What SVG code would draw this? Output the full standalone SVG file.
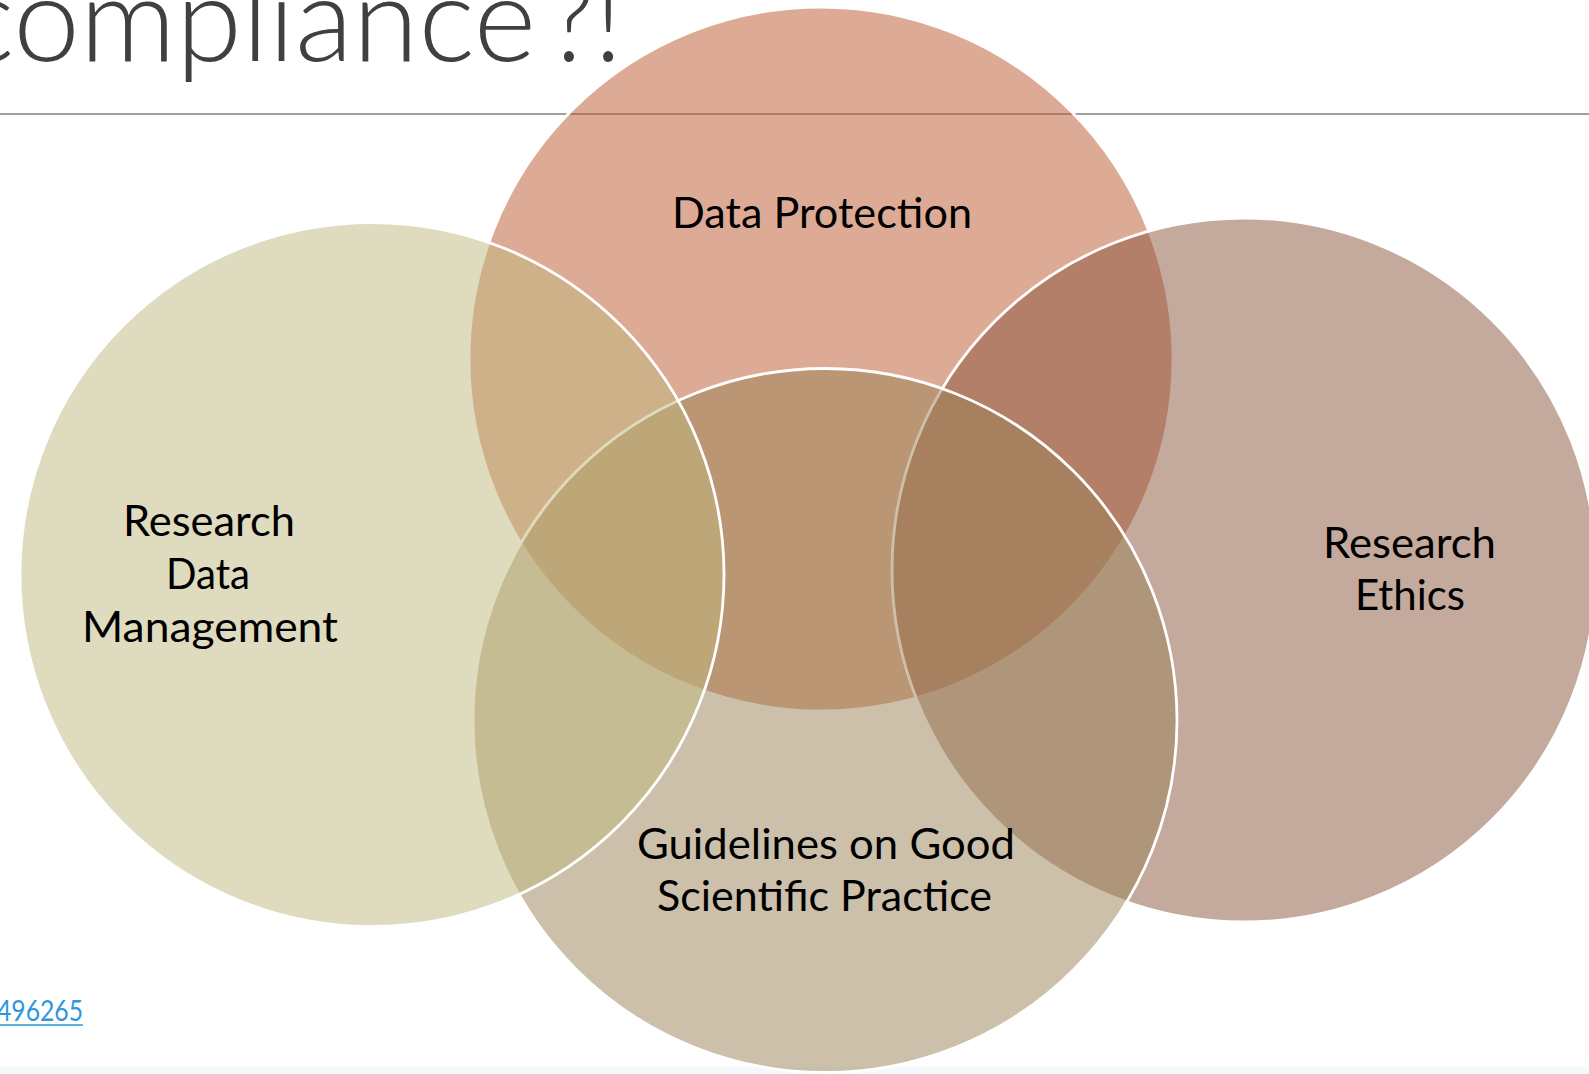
<svg xmlns="http://www.w3.org/2000/svg" width="1589" height="1074" viewBox="0 0 1589 1074">
  <style>
    .circle { stroke: #ffffff; stroke-width: 2.8; fill-opacity: 0.5; }
    .label { font-family: "Lato", "Liberation Sans", sans-serif; font-size: 42px; fill: #000000; }
    .title { font-family: "Lato", "Liberation Sans", sans-serif; font-weight: 300; font-size: 118px; fill: #404040; }
    .link { font-family: "Lato", "Liberation Sans", sans-serif; font-size: 28px; fill: #2e95de; }
  </style>
  <rect x="0" y="0" width="1589" height="1074" fill="#ffffff"/>
  <rect x="0" y="1067" width="1589" height="7" fill="#f4fafb"/>

  <g id="title">
    <text class="title" y="61"><tspan x="-42" textLength="578" lengthAdjust="spacingAndGlyphs">compliance</tspan><tspan x="548" textLength="74" lengthAdjust="spacingAndGlyphs">?!</tspan></text>
    <line x1="0" y1="114" x2="1589" y2="114" stroke="#a0a0a0" stroke-width="2"/>
  </g>

  <g id="node-data-protection">
    <circle class="circle" cx="821" cy="359" r="352" fill="rgb(187,85,43)"/>
    <text class="label" x="672" y="228" textLength="300" lengthAdjust="spacingAndGlyphs">Data Protection</text>
  </g>

  <g id="node-research-ethics">
    <circle class="circle" cx="1244" cy="570" r="352" fill="rgb(137,83,59)"/>
    <text class="label" x="1323" y="558" textLength="173" lengthAdjust="spacingAndGlyphs">Research</text>
    <text class="label" x="1355" y="610" textLength="110" lengthAdjust="spacingAndGlyphs">Ethics</text>
  </g>

  <g id="node-guidelines">
    <circle class="circle" cx="825" cy="720.5" r="352" fill="rgb(153,129,85)"/>
    <text class="label" x="637" y="859" textLength="378" lengthAdjust="spacingAndGlyphs">Guidelines on Good</text>
    <text class="label" x="657" y="911" textLength="335" lengthAdjust="spacingAndGlyphs">Scientific Practice</text>
  </g>

  <g id="node-research-data-management">
    <circle class="circle" cx="372" cy="574.5" r="352" fill="rgb(191,183,125)"/>
    <text class="label" x="123" y="536" textLength="172" lengthAdjust="spacingAndGlyphs">Research</text>
    <text class="label" x="166" y="589" textLength="84" lengthAdjust="spacingAndGlyphs">Data</text>
    <text class="label" x="82" y="642" textLength="256" lengthAdjust="spacingAndGlyphs">Management</text>
  </g>

  <g id="connectors"></g>

  <g id="link">
    <text class="link" x="-3" y="1021" textLength="86" lengthAdjust="spacingAndGlyphs">496265</text>
    <line x1="0" y1="1025" x2="83" y2="1025" stroke="#2e95de" stroke-width="1.5"/>
  </g>
</svg>
